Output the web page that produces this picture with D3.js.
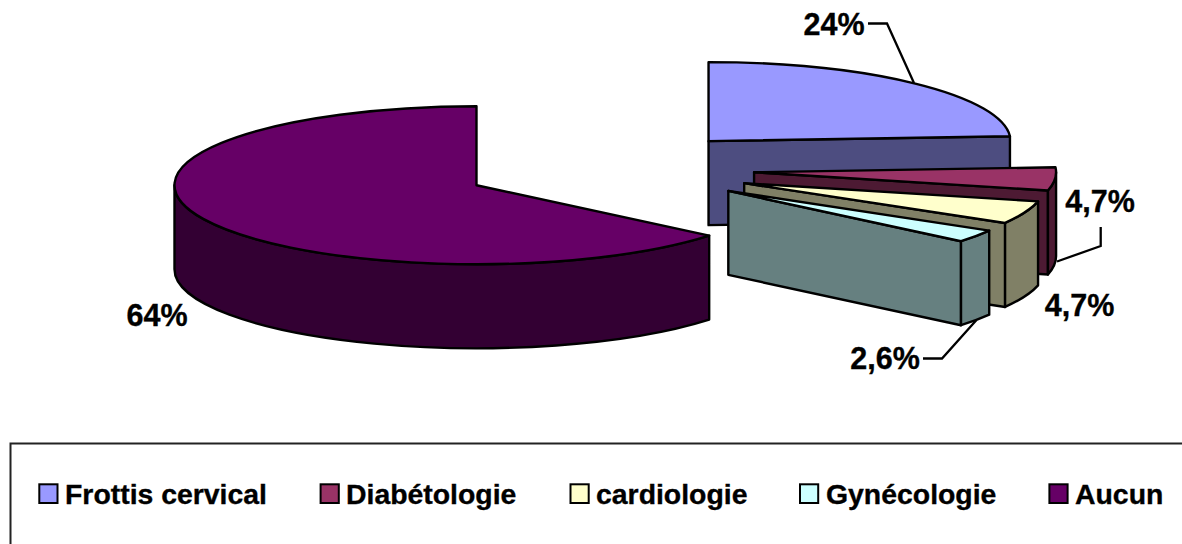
<!DOCTYPE html>
<html>
<head>
<meta charset="utf-8">
<script src="https://cdnjs.cloudflare.com/ajax/libs/d3/7.8.5/d3.min.js"></script>
<style>
  html, body { margin: 0; padding: 0; background: #fff; }
  svg { display: block; }
  text { font-family: "Liberation Sans", Arial, sans-serif; font-weight: bold; fill: #000; stroke: #000; stroke-width: 0.35px; }
</style>
</head>
<body>
<svg id="chart" width="1182" height="544"></svg>
<script>
// Share of patients per follow-up type
const categories = ["Frottis cervical", "Diabétologie", "cardiologie", "Gynécologie", "Aucun"];
const shares = [24, 4.7, 4.7, 2.6, 64];
const shareLabels = ["24%", "4,7%", "4,7%", "2,6%", "64%"];
const topColors = ["#9999ff", "#993366", "#ffffcc", "#ccffff", "#660066"];
const wallColors = ["#4d4d80", "#4d1a33", "#808066", "#668080", "#330033"];

// Tilted pie geometry
const W = 1182, H = 544;
const pieCenter = [608.6, 169];
const rx = 302, ry = 79, depth = 84, explode = 146;

const svg = d3.select("#chart");
const arcs = d3.pie().sort(null).value(d => d)(shares);

function sliceGeometry(arc) {
  const mid = (arc.startAngle + arc.endAngle) / 2;
  const cx = pieCenter[0] + explode * Math.sin(mid);
  const cy = pieCenter[1] - explode * (ry / rx) * Math.cos(mid);
  const at = (a, drop = 0) => [cx + rx * Math.sin(a), cy - ry * Math.cos(a) + drop];
  return { cx, cy, at };
}

// Elliptical rim from angle a to angle b, continuing the current path
const rimTo = (g, a, b, drop, sweep) => {
  const p = g.at(b, drop);
  const large = Math.abs(b - a) > Math.PI ? 1 : 0;
  return `A${rx},${ry} 0 ${large} ${sweep} ${p[0]},${p[1]}`;
};

const marks = svg.append("g")
  .attr("stroke", "#000").attr("stroke-width", 2.4).attr("stroke-linejoin", "round");

arcs.forEach((arc, i) => {
  const g = sliceGeometry(arc);
  const a0 = arc.startAngle, a1 = arc.endAngle;
  const slice = marks.append("g").attr("class", "slice");

  // Cut face on the clockwise side, seen whenever its edge points downward
  if (a1 < Math.PI) {
    const p = g.at(a1), q = g.at(a1, depth);
    slice.append("path")
      .attr("fill", wallColors[i])
      .attr("d", `M${g.cx},${g.cy}L${p}L${q}L${g.cx},${g.cy + depth}Z`);
  }

  // Outer rim, only the part facing the viewer
  const v0 = Math.max(a0, Math.PI / 2), v1 = Math.min(a1, 3 * Math.PI / 2);
  if (v1 > v0) {
    const p0 = g.at(v0), p1Low = g.at(v1, depth);
    slice.append("path")
      .attr("fill", wallColors[i])
      .attr("d", `M${p0}${rimTo(g, v0, v1, 0, 1)}L${p1Low}${rimTo(g, v1, v0, depth, 0)}Z`);
  }

  // Top face
  const s = g.at(a0);
  slice.append("path")
    .attr("fill", topColors[i])
    .attr("d", `M${g.cx},${g.cy}L${s}${rimTo(g, a0, a1, 0, 1)}Z`);
});

// Value labels and their leader lines
const labelSpots = [
  { x: 834, y: 34.5, leader: [[868, 23.5], [887, 23.5], [914, 83]] },
  { x: 1100, y: 212, leader: [[1100.7, 227], [1100.7, 246], [1057, 261.5]] },
  { x: 1079.5, y: 316, leader: null },
  { x: 885, y: 369, leader: [[923, 358.5], [942, 358.5], [976.5, 320]] },
  { x: 157, y: 326, leader: null }
];
const labelFont = 30.5;
labelSpots.forEach((spot, i) => {
  if (spot.leader) {
    svg.append("path")
      .attr("fill", "none").attr("stroke", "#000").attr("stroke-width", 2.3)
      .attr("d", d3.line()(spot.leader));
  }
  svg.append("text")
    .attr("x", spot.x).attr("y", spot.y)
    .attr("text-anchor", "middle")
    .attr("font-size", labelFont)
    .text(shareLabels[i]);
});

// Legend frame: top and left sides only, the rest falls outside the page
svg.append("path")
  .attr("fill", "none").attr("stroke", "#222").attr("stroke-width", 2)
  .attr("d", d3.line()([[10.5, H], [10.5, 443.5], [W, 443.5]]));

const legendSwatchX = [39.3, 320.6, 570.5, 800, 1049.4];
const legendTextX = [65, 346, 596, 826, 1075];
const legendFont = 28.4;
categories.forEach((name, i) => {
  svg.append("rect")
    .attr("x", legendSwatchX[i]).attr("y", 484.3)
    .attr("width", 18.2).attr("height", 18.7)
    .attr("fill", topColors[i]).attr("stroke", "#000").attr("stroke-width", 2);
  svg.append("text")
    .attr("x", legendTextX[i]).attr("y", 504)
    .attr("font-size", legendFont)
    .text(name);
});
</script>
</body>
</html>
